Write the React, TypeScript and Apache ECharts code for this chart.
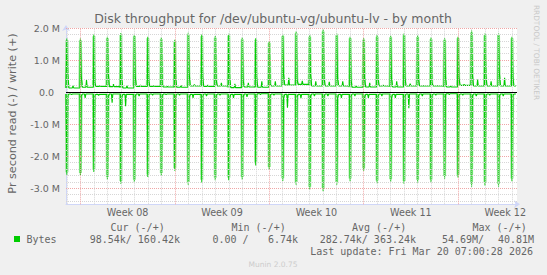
import React, { useEffect, useRef } from "react";
import * as echarts from "echarts";

// Day index: 0 = Mon 16 Feb 2026 00:00 (start of Week 08)
const DAYS = [-1, 0, 1, 2, 3, 4, 5, 6, 7, 8, 9, 10, 11, 12, 13, 14, 15, 16, 17, 18, 19, 20, 21, 22, 23, 24, 25, 26, 27, 28, 29, 30, 31, 32];

// write (+), in M bytes/s
const writePeak = [1.67, 1.67, 1.8, 1.73, 1.84, 1.8, 1.73, 1.7, 1.63, 1.85, 1.8, 1.75, 1.82, 1.7, 1.68, 1.59, 1.8, 1.89, 1.78, 1.95, 1.83, 1.73, 1.68, 1.78, 1.76, 1.83, 1.77, 1.7, 1.68, 1.73, 1.92, 1.83, 1.84, 1.73];
const writeAfter = [0.55, 0.5, 0.3, 0.6, 0.41, 0.5, 0.35, 0.25, 0.41, 0.6, 0.45, 0.38, 0.45, 0.38, 0.45, 0.25, 0.53, 0.39, 0.55, 0.45, 0.45, 0.39, 0.45, 0.45, 0.45, 0.45, 0.41, 0.29, 0.5, 0.45, 0.55, 0.5, 0.6, 0.45];
const writeBase = [0.13, 0.15, 0.18, 0.17, 0.13, 0.18, 0.18, 0.16, 0.15, 0.19, 0.18, 0.19, 0.14, 0.16, 0.15, 0.19, 0.22, 0.24, 0.19, 0.19, 0.19, 0.15, 0.16, 0.19, 0.16, 0.19, 0.19, 0.19, 0.16, 0.21, 0.19, 0.19, 0.19, 0.19];
const writeBump = [0.2, 0.38, 0.2, 0.25, 0.2, 0.22, 0.2, 0.18, 0.22, 0.24, 0.22, 0.29, 0.26, 0.29, 0.34, 0.34, 0.45, 0.35, 0.34, 0.32, 0.34, 0.2, 0.29, 0.22, 0.34, 0.26, 0.2, 0.2, 0.2, 0.24, 0.39, 0.34, 0.45, 0.19];

// read (-), in M bytes/s
const readPeak = [-2.58, -2.6, -2.49, -2.73, -2.86, -2.82, -2.65, -2.6, -2.45, -2.89, -2.82, -2.75, -2.75, -2.73, -2.29, -2.41, -2.77, -2.89, -3.04, -3.09, -2.89, -2.78, -2.45, -2.84, -2.8, -2.86, -2.82, -2.81, -2.7, -2.66, -2.95, -2.91, -2.95, -2.78];
const readAfter = [-0.1, -0.12, -0.1, -0.14, -0.15, -0.12, -0.1, -0.1, -0.1, -0.18, -0.12, -0.1, -0.18, -0.15, -0.08, -0.1, -0.18, -0.15, -0.12, -0.12, -0.18, -0.12, -0.18, -0.12, -0.18, -0.12, -0.12, -0.1, -0.08, -0.1, -0.12, -0.1, -0.12, -0.1];
const readBase = [-0.06, -0.06, -0.07, -0.06, -0.07, -0.06, -0.06, -0.06, -0.06, -0.07, -0.06, -0.06, -0.07, -0.06, -0.05, -0.06, -0.07, -0.07, -0.06, -0.06, -0.07, -0.06, -0.07, -0.06, -0.07, -0.06, -0.06, -0.06, -0.05, -0.06, -0.06, -0.06, -0.06, -0.06];
const readDip = [-0.08, -0.18, -0.1, -0.33, -0.44, -0.12, -0.1, -0.08, -0.1, -0.18, -0.12, -0.1, -0.18, -0.15, -0.08, -0.1, -0.49, -0.19, -0.12, -0.12, -0.18, -0.12, -0.18, -0.12, -0.18, -0.5, -0.12, -0.1, -0.08, -0.1, -0.12, -0.1, -0.12, -0.1];

const yTickValues = [-3e6, -2e6, -1e6, 0, 1e6, 2e6];
const weekLabelDays = [3.5, 10.5, 17.5, 24.5, 31.5];
const weekLabels = ["Week 08", "Week 09", "Week 10", "Week 11", "Week 12"];
const majorDays = [0, 7, 14, 21, 28];

const legendHeaders = ["Cur (-/+)", "Min (-/+)", "Avg (-/+)", "Max (-/+)"];
const legendName = "Bytes";
const curText = "98.54k/ 160.42k";
const minRead = "0.00 /";
const minWrite = "6.74k";
const avgText = "282.74k/ 363.24k";
const maxRead = "54.69M/";
const maxWrite = "40.81M";
const lastUpdate = "Last update: Fri Mar 20 07:00:28 2026";

const X_MIN = -1.07;
const X_MAX = 32.37;
const LAST = 32.29;
const Y_MIN = -3.5e6;
const Y_MAX = 2e6;

function build(peak: number[], after: number[], base: number[], extra: number[], extraAt: number) {
  const pts: [number, number][] = [[X_MIN, base[0] * 1e6]];
  DAYS.forEach((d, i) => {
    const seq: [number, number][] = [
      [d, peak[i]],
      [d + 0.06, after[i]],
      [d + 0.15, base[i]],
      [d + extraAt - 0.05, base[i]],
      [d + extraAt, extra[i]],
      [d + extraAt + 0.05, base[i]],
      [d + 0.96, base[i]],
    ];
    seq.forEach(([t, v]) => {
      if (t >= X_MIN && t <= LAST) pts.push([t, v * 1e6]);
    });
  });
  pts.push([LAST, base[base.length - 1] * 1e6]);
  return pts;
}

// soft halo drawn under each daily spike (rrdtool's anti-aliased look)
function halo(peak: number[], base: number[]) {
  const pts: ([number, number] | [number, null])[] = [];
  DAYS.forEach((d, i) => {
    if (d < X_MIN || d > LAST) return;
    pts.push([Math.max(X_MIN, d - 0.04), base[i] * 1e6]);
    pts.push([d, peak[i] * 1e6 * 0.97]);
    pts.push([d + 0.05, base[i] * 1e6]);
    pts.push([d + 0.06, null]);
  });
  return pts;
}

const FONT = "DejaVu Sans";
const MONO = "DejaVu Sans Mono";
const TXT = "#666666";

export default function App() {
  const ref = useRef<HTMLDivElement>(null);
  useEffect(() => {
    if (!ref.current) return;
    const chart = echarts.init(ref.current, undefined, { renderer: "svg" });

    const minorDash = { color: "#d6d6d6", type: [1, 1] as number[], width: 1 };
    const majorDash = { color: "#efa6a6", type: [1, 1] as number[], width: 1 };

    const gridLines: any[] = [];
    for (let k = -17; k <= 10; k++) {
      const v = k * 0.2e6;
      if (k % 5 === 0) {
        if (k !== 0) gridLines.push({ yAxis: v, lineStyle: majorDash });
      } else {
        gridLines.push({ yAxis: v, lineStyle: minorDash });
      }
    }
    for (let d = -1; d <= 32; d++) {
      gridLines.push({ xAxis: d, lineStyle: majorDays.includes(d) ? majorDash : minorDash });
    }

    const writeData = build(writePeak, writeAfter, writeBase, writeBump, 0.45);
    const readData = build(readPeak, readAfter, readBase, readDip, 0.35);

    const textEl = (text: string, x: number, y: number, opts: any = {}) => ({
      type: "text",
      x,
      y,
      silent: true,
      rotation: opts.rotation || 0,
      style: {
        text,
        fill: opts.fill || TXT,
        fontSize: opts.fontSize || 10,
        fontFamily: opts.fontFamily || MONO,
        align: opts.align || "left",
        verticalAlign: "middle",
      },
    });

    const haloStyle = { color: "rgba(0,204,0,0.45)", width: 3 };

    chart.setOption({
      animation: false,
      backgroundColor: "#f0f0f0",
      grid: {
        left: 66,
        right: 30,
        top: 28,
        bottom: 70.7,
        show: true,
        backgroundColor: "#ffffff",
        borderWidth: 0,
      },
      xAxis: {
        type: "value",
        min: X_MIN,
        max: X_MAX,
        position: "bottom",
        axisLine: {
          show: true,
          onZero: false,
          lineStyle: { color: "#cfd6f8", width: 1 },
          symbol: ["none", "arrow"],
          symbolSize: [6, 6],
          symbolOffset: [0, 3],
        },
        axisTick: { show: false },
        splitLine: { show: false },
        axisLabel: {
          customValues: weekLabelDays,
          formatter: (v: number) => {
            const i = weekLabelDays.findIndex((w) => Math.abs(w - v) < 1e-6);
            return i >= 0 ? weekLabels[i] : "";
          },
          color: TXT,
          fontFamily: FONT,
          fontSize: 9.6,
          margin: 3,
        },
      },
      yAxis: {
        type: "value",
        min: Y_MIN,
        max: Y_MAX,
        axisLine: {
          show: true,
          onZero: false,
          lineStyle: { color: "#cfd6f8", width: 1 },
          symbol: ["none", "arrow"],
          symbolSize: [6, 6],
          symbolOffset: [0, 3],
        },
        axisTick: { show: false },
        splitLine: { show: false },
        axisLabel: {
          customValues: yTickValues,
          formatter: (v: number) => (Math.abs(v) < 1 ? "{z|0.0}" : (v / 1e6).toFixed(1) + " M"),
          rich: { z: { padding: [0, 6, 0, 0], color: TXT, fontFamily: FONT, fontSize: 9.5 } },
          color: TXT,
          fontFamily: FONT,
          fontSize: 9.5,
          margin: 6,
        },
      },
      series: [
        {
          type: "line",
          data: [[X_MIN, 0]],
          symbol: "none",
          lineStyle: { opacity: 0 },
          silent: true,
          z: 1,
          markLine: {
            silent: true,
            symbol: ["none", "none"],
            label: { show: false },
            emphasis: { disabled: true },
            data: gridLines,
          },
        },
        {
          type: "line",
          data: halo(writePeak, writeBase),
          symbol: "none",
          connectNulls: false,
          lineStyle: haloStyle,
          silent: true,
          z: 2,
        },
        {
          type: "line",
          data: halo(readPeak, readBase),
          symbol: "none",
          connectNulls: false,
          lineStyle: haloStyle,
          silent: true,
          z: 2,
        },
        {
          name: "write",
          type: "line",
          data: writeData,
          symbol: "none",
          showSymbol: false,
          lineStyle: { color: "#00cc00", width: 1.1 },
          silent: true,
          z: 3,
        },
        {
          name: "read",
          type: "line",
          data: readData,
          symbol: "none",
          showSymbol: false,
          lineStyle: { color: "#00cc00", width: 1.1 },
          silent: true,
          z: 3,
        },
        {
          type: "line",
          data: [[X_MIN, 0]],
          symbol: "none",
          lineStyle: { opacity: 0 },
          silent: true,
          z: 4,
          markLine: {
            silent: true,
            symbol: ["none", "none"],
            label: { show: false },
            emphasis: { disabled: true },
            data: [{ yAxis: 0, lineStyle: { color: "#000000", type: "solid", width: 1 } }],
          },
        },
      ],
      graphic: [
        textEl("Disk throughput for /dev/ubuntu-vg/ubuntu-lv - by month", 273, 18.5, {
          fontFamily: FONT,
          fontSize: 12.5,
          align: "center",
        }),
        textEl("Pr second read (-) / write (+)", 12, 113.5, {
          fontFamily: FONT,
          fontSize: 11.2,
          align: "center",
          rotation: Math.PI / 2,
        }),
        textEl("RRDTOOL / TOBI OETIKER", 536.5, 52.5, {
          fontFamily: FONT,
          fontSize: 7.4,
          align: "center",
          rotation: -Math.PI / 2,
          fill: "#c8c8c8",
        }),
        textEl(legendHeaders[0], 110.5, 227.5),
        textEl(legendHeaders[1], 231.5, 227.5),
        textEl(legendHeaders[2], 352, 227.5),
        textEl(legendHeaders[3], 472.5, 227.5),
        {
          type: "rect",
          silent: true,
          shape: { x: 14, y: 236, width: 6, height: 6 },
          style: { fill: "#00cc00" },
        },
        textEl(legendName, 26.5, 239),
        textEl(curText, 180, 239, { align: "right" }),
        textEl(minRead, 212.5, 239),
        textEl(minWrite, 298, 239, { align: "right" }),
        textEl(avgText, 416, 239, { align: "right" }),
        textEl(maxRead, 442, 239),
        textEl(maxWrite, 534, 239, { align: "right" }),
        textEl(lastUpdate, 533, 251, { align: "right" }),
        textEl("Munin 2.0.75", 273, 264, {
          fontFamily: FONT,
          fontSize: 7.5,
          align: "center",
          fill: "#cccccc",
        }),
      ],
    });

    return () => chart.dispose();
  }, []);

  return (
    <div
      ref={ref}
      style={{ position: "absolute", left: 0, top: 0, width: 547, height: 275 }}
    />
  );
}
